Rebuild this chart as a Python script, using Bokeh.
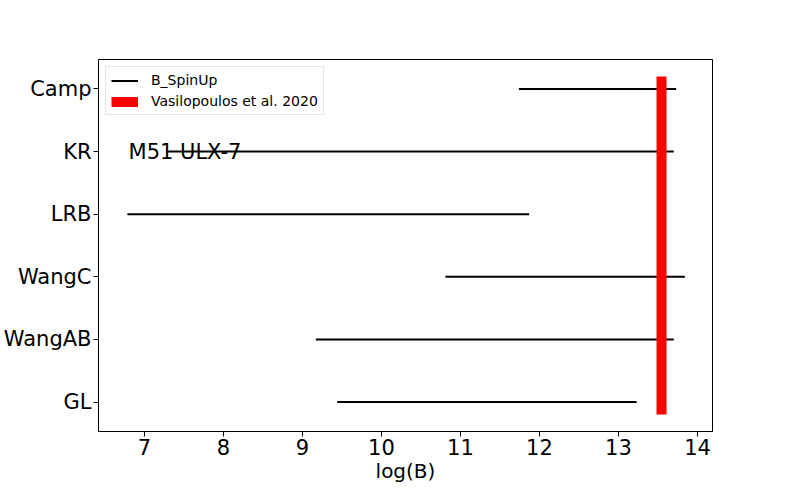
from bokeh.plotting import figure
from bokeh.models import FixedTicker, Legend, LegendItem, Range1d
from bokeh.core.properties import value
from bokeh.embed import file_html
from bokeh.resources import INLINE

# data
categories = ["GL", "WangAB", "WangC", "LRB", "KR", "Camp"]
b_low = [9.44, 9.17, 10.81, 6.785, 7.29, 11.74]
b_high = [13.23, 13.70, 13.84, 11.87, 13.70, 13.73]
vasil_x = 13.545
vasil_y = [-0.2, 5.2]
x_ticks = [7, 8, 9, 10, 11, 12, 13, 14]
annot_text = "M51 ULX-7"
annot_x = 6.8
annot_y = 4

FONT = "DejaVu Sans"
ypos = list(range(len(categories)))

p = figure(output_backend="svg", toolbar_location=None,
           frame_width=614, frame_height=372,
           min_border_left=97, min_border_right=76,
           min_border_top=59, min_border_bottom=60,
           x_range=Range1d(6.42, 14.19), y_range=Range1d(-0.47, 5.47))
p.background_fill_color = "white"
p.border_fill_color = "white"
p.grid.visible = False
p.outline_line_color = "black"
p.outline_line_width = 1
p.outline_line_alpha = 1

r_black = p.segment(x0=b_low, y0=ypos, x1=b_high, y1=ypos,
                    line_color="black", line_width=2)
r_red = p.segment(x0=[vasil_x], y0=[vasil_y[0]], x1=[vasil_x], y1=[vasil_y[1]],
                  line_color="red", line_width=10, line_cap="butt")

p.text(x=[annot_x], y=[annot_y], text=[annot_text], text_font=value(FONT),
       text_font_size="21px", text_baseline="alphabetic", text_align="left",
       text_color="black")

for ax in (p.xaxis[0], p.yaxis[0]):
    ax.axis_line_color = "black"
    ax.major_tick_line_color = "black"
    ax.minor_tick_line_color = None
    ax.major_tick_out = 5
    ax.major_tick_in = 0
    ax.major_label_text_font = FONT
    ax.major_label_text_font_size = "21px"
    ax.major_label_text_color = "black"
    ax.axis_label_text_font = FONT
    ax.axis_label_text_font_style = "normal"
    ax.axis_label_text_color = "black"

p.xaxis.ticker = FixedTicker(ticks=x_ticks)
p.xaxis.axis_label = "log(B)"
p.xaxis.axis_label_text_font_size = "20px"
p.xaxis.major_label_standoff = 2
p.xaxis.axis_label_standoff = 1

p.yaxis.ticker = FixedTicker(ticks=ypos)
p.yaxis.major_label_overrides = {i: c for i, c in enumerate(categories)}
p.yaxis.major_label_standoff = 2

legend = Legend(items=[LegendItem(label="B_SpinUp", renderers=[r_black]),
                       LegendItem(label="Vasilopoulos et al. 2020", renderers=[r_red])],
                location="top_left")
legend.margin = 7
legend.padding = 5
legend.spacing = 5
legend.label_height = 15
legend.glyph_height = 15
legend.glyph_width = 27
legend.label_standoff = 13
legend.label_text_font = FONT
legend.label_text_font_size = "14px"
legend.label_text_color = "black"
legend.border_line_color = "#cccccc"
legend.border_line_width = 1
legend.background_fill_alpha = 0.8
p.add_layout(legend)

open("out.html", "w").write(file_html(p, INLINE))
